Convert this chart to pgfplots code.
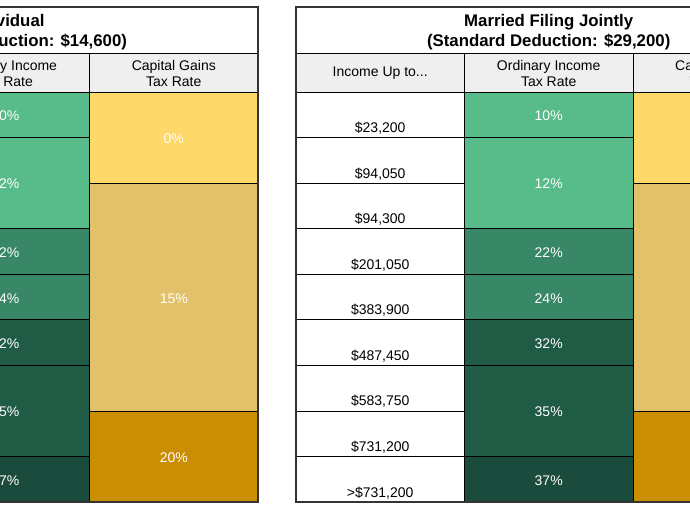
\documentclass[border=0pt]{standalone}
\usepackage{pgfplots}
\pgfplotsset{compat=1.18}
\usepackage{fontspec}
\setmainfont{Liberation Sans}
\definecolor{hdr}{HTML}{EFEFEF}
\definecolor{gA}{HTML}{57BB8A}
\definecolor{gB}{HTML}{388766}
\definecolor{gC}{HTML}{205C45}
\definecolor{gD}{HTML}{1B4B3C}
\definecolor{yA}{HTML}{FED868}
\definecolor{yB}{HTML}{E3C16A}
\definecolor{yC}{HTML}{CA8E02}
\definecolor{bord}{HTML}{333333}
% cell: x1 x2 ytop ybottom colour
\newcommand{\cell}[5]{\addplot[draw=black, line width=0.8bp, fill=#5] coordinates {(#1,#3) (#2,#3) (#2,#4) (#1,#4)} -- cycle;}
\newcommand{\frm}[4]{\addplot[draw=bord, line width=1.3bp] coordinates {(#1,#3) (#2,#3) (#2,#4) (#1,#4)} -- cycle;}
\newcommand{\tfont}{\fontsize{16.8bp}{20bp}\selectfont\bfseries}
\newcommand{\bfont}{\fontsize{14bp}{16.6bp}\selectfont}
\begin{document}
\begin{tikzpicture}
\useasboundingbox (0,0) rectangle (690bp,511bp);
\clip (0,0) rectangle (690bp,511bp);
\begin{axis}[at={(0,0)}, anchor=south west, width=690bp, height=511bp, scale only axis,
  hide axis, xmin=0, xmax=690, ymin=0, ymax=511, y dir=reverse, clip=true]
% ---------- left table (Single / Individual) ----------
\cell{-247.5}{258}{7}{53}{white}
\cell{-247.5}{-79}{53}{92}{hdr}
\cell{-79}{89.5}{53}{92}{hdr}
\cell{89.5}{258}{53}{92}{hdr}
\cell{-79}{89.5}{92}{137.5}{gA}
\cell{-79}{89.5}{137.5}{228.6}{gA}
\cell{-79}{89.5}{228.6}{274.2}{gB}
\cell{-79}{89.5}{274.2}{319.7}{gB}
\cell{-79}{89.5}{319.7}{365.3}{gC}
\cell{-79}{89.5}{365.3}{456.4}{gC}
\cell{-79}{89.5}{456.4}{502}{gD}
\cell{89.5}{258}{92}{183}{yA}
\cell{89.5}{258}{183}{410.9}{yB}
\cell{89.5}{258}{410.9}{502}{yC}
\frm{-247.5}{258}{7}{502}
% ---------- right table (Married Filing Jointly) ----------
\cell{296}{801.5}{7}{53}{white}
\cell{296}{464.5}{53}{92}{hdr}
\cell{464.5}{633}{53}{92}{hdr}
\cell{633}{801.5}{53}{92}{hdr}
\cell{296}{464.5}{92}{137.5}{white}
\cell{296}{464.5}{137.5}{183}{white}
\cell{296}{464.5}{183}{228.6}{white}
\cell{296}{464.5}{228.6}{274.2}{white}
\cell{296}{464.5}{274.2}{319.7}{white}
\cell{296}{464.5}{319.7}{365.3}{white}
\cell{296}{464.5}{365.3}{410.9}{white}
\cell{296}{464.5}{410.9}{456.4}{white}
\cell{296}{464.5}{456.4}{502}{white}
\cell{464.5}{633}{92}{137.5}{gA}
\cell{464.5}{633}{137.5}{228.6}{gA}
\cell{464.5}{633}{228.6}{274.2}{gB}
\cell{464.5}{633}{274.2}{319.7}{gB}
\cell{464.5}{633}{319.7}{365.3}{gC}
\cell{464.5}{633}{365.3}{456.4}{gC}
\cell{464.5}{633}{456.4}{502}{gD}
\cell{633}{801.5}{92}{183}{yA}
\cell{633}{801.5}{183}{410.9}{yB}
\cell{633}{801.5}{410.9}{502}{yC}
\frm{296}{801.5}{7}{502}
% ---------- texts, left ----------
\node[align=center, inner sep=0pt, font=\tfont] at (axis cs:5.3,32.5) {Individual\\(Standard Deduction: \$14,600)};
\node[align=center, inner sep=0pt, font=\bfont] at (axis cs:5.3,73.5) {Ordinary Income\\Tax Rate};
\node[align=center, inner sep=0pt, font=\bfont] at (axis cs:173.8,73.5) {Capital Gains\\Tax Rate};
\node[inner sep=0pt, font=\bfont, text=white] at (axis cs:5.3,116) {10\%};
\node[inner sep=0pt, font=\bfont, text=white] at (axis cs:5.3,184) {12\%};
\node[inner sep=0pt, font=\bfont, text=white] at (axis cs:5.3,253) {22\%};
\node[inner sep=0pt, font=\bfont, text=white] at (axis cs:5.3,298.5) {24\%};
\node[inner sep=0pt, font=\bfont, text=white] at (axis cs:5.3,344) {32\%};
\node[inner sep=0pt, font=\bfont, text=white] at (axis cs:5.3,412) {35\%};
\node[inner sep=0pt, font=\bfont, text=white] at (axis cs:5.3,480.5) {37\%};
\node[inner sep=0pt, font=\bfont, text=white] at (axis cs:173.8,138.5) {0\%};
\node[inner sep=0pt, font=\bfont, text=white] at (axis cs:173.8,298.5) {15\%};
\node[inner sep=0pt, font=\bfont, text=white] at (axis cs:173.8,457.5) {20\%};
% ---------- texts, right ----------
\node[align=center, inner sep=0pt, font=\tfont] at (axis cs:548.7,32.5) {Married Filing Jointly\\(Standard Deduction: \$29,200)};
\node[align=center, inner sep=0pt, font=\bfont] at (axis cs:380.2,73.5) {Income Up to...};
\node[align=center, inner sep=0pt, font=\bfont] at (axis cs:548.7,73.5) {Ordinary Income\\Tax Rate};
\node[align=center, inner sep=0pt, font=\bfont] at (axis cs:717.2,73.5) {Capital Gains\\Tax Rate};
\node[anchor=base, inner sep=0pt, font=\bfont] at (axis cs:380.2,132.5) {\$23,200};
\node[anchor=base, inner sep=0pt, font=\bfont] at (axis cs:380.2,178) {\$94,050};
\node[anchor=base, inner sep=0pt, font=\bfont] at (axis cs:380.2,223.6) {\$94,300};
\node[anchor=base, inner sep=0pt, font=\bfont] at (axis cs:380.2,269.2) {\$201,050};
\node[anchor=base, inner sep=0pt, font=\bfont] at (axis cs:380.2,314.7) {\$383,900};
\node[anchor=base, inner sep=0pt, font=\bfont] at (axis cs:380.2,360.3) {\$487,450};
\node[anchor=base, inner sep=0pt, font=\bfont] at (axis cs:380.2,405.9) {\$583,750};
\node[anchor=base, inner sep=0pt, font=\bfont] at (axis cs:380.2,451.4) {\$731,200};
\node[anchor=base, inner sep=0pt, font=\bfont] at (axis cs:380.2,497) {>\$731,200};
\node[inner sep=0pt, font=\bfont, text=white] at (axis cs:548.7,116) {10\%};
\node[inner sep=0pt, font=\bfont, text=white] at (axis cs:548.7,184) {12\%};
\node[inner sep=0pt, font=\bfont, text=white] at (axis cs:548.7,253) {22\%};
\node[inner sep=0pt, font=\bfont, text=white] at (axis cs:548.7,298.5) {24\%};
\node[inner sep=0pt, font=\bfont, text=white] at (axis cs:548.7,344) {32\%};
\node[inner sep=0pt, font=\bfont, text=white] at (axis cs:548.7,412) {35\%};
\node[inner sep=0pt, font=\bfont, text=white] at (axis cs:548.7,480.5) {37\%};
\node[inner sep=0pt, font=\bfont, text=white] at (axis cs:717.2,138.5) {0\%};
\node[inner sep=0pt, font=\bfont, text=white] at (axis cs:717.2,298.5) {15\%};
\node[inner sep=0pt, font=\bfont, text=white] at (axis cs:717.2,457.5) {20\%};
\end{axis}
\end{tikzpicture}
\end{document}
